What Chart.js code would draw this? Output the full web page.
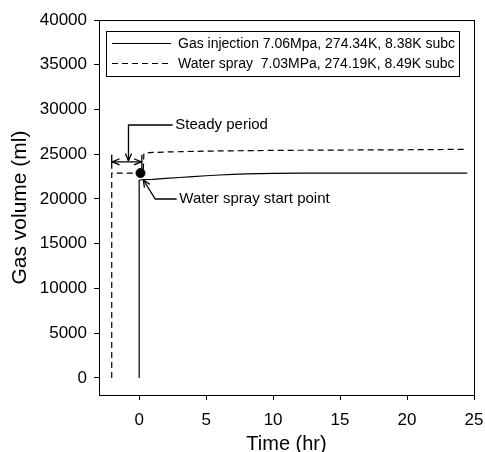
<!DOCTYPE html>
<html>
<head>
<meta charset="utf-8">
<script src="https://cdn.jsdelivr.net/npm/chart.js@4"></script>
<style>
  html, body { margin: 0; padding: 0; background: #fff; }
  #wrap { width: 485px; height: 452px; }
</style>
</head>
<body>
<div id="wrap"><canvas id="chart"></canvas></div>
<script>
// gas injection run (solid)
var gasTime = [0, 0, 0.2, 1, 2, 3, 4, 5, 6, 7, 8, 10, 12, 15, 20, 24.5];
var gasVolume = [0, 22100, 22150, 22200, 22300, 22400, 22500, 22600, 22680, 22750, 22800, 22870, 22890, 22900, 22900, 22900];

// water spray run (dashed)
var sprayTime = [-2.05, -2.05, 0.3, 0.35, 1, 2, 4, 6, 8, 10, 15, 20, 24.5];
var sprayVolume = [0, 22900, 22900, 25100, 25200, 25250, 25320, 25370, 25400, 25430, 25470, 25500, 25550];

// water spray start point marker
var startTime = [0.1];
var startVolume = [22900];

var xTicks = [0, 5, 10, 15, 20, 25];
var yTicks = [0, 5000, 10000, 15000, 20000, 25000, 30000, 35000, 40000];

var labels = [
    'Gas injection 7.06Mpa, 274.34K, 8.38K subc',
    'Water spray  7.03MPa, 274.19K, 8.49K subc'
];

function toPoints(xs, ys) {
    return xs.map(function (x, i) { return {x: x, y: ys[i]}; });
}

var FONT = '"Liberation Sans", Arial, sans-serif';

var framePlugin = {
    id: 'frame',
    afterDraw: function (chart) {
        var ctx = chart.ctx, a = chart.chartArea;
        var xs = chart.scales.x, ys = chart.scales.y;
        ctx.save();
        ctx.strokeStyle = '#000';
        ctx.lineWidth = 1;
        ctx.strokeRect(Math.round(a.left) + 0.5, Math.round(a.top) + 0.5,
            Math.round(a.right - a.left), Math.round(a.bottom - a.top));

        // legend box
        ctx.strokeRect(106.5, 31.5, 353, 45);
        ctx.font = '14px ' + FONT;
        ctx.fillStyle = '#000';
        ctx.textBaseline = 'middle';
        [0, 1].forEach(function (i) {
            var ds = chart.data.datasets[i];
            var yy = 43 + i * 20;
            ctx.beginPath();
            ctx.setLineDash(ds.borderDash || []);
            ctx.moveTo(112, yy + 0.5);
            ctx.lineTo(171, yy + 0.5);
            ctx.stroke();
            ctx.setLineDash([]);
            ctx.fillText(ds.label, 178, yy + 1);
        });

        // annotations, positioned in data units
        function px(x) { return xs.getPixelForValue(x); }
        function py(y) { return ys.getPixelForValue(y); }
        function head(x, y, ang) {
            ctx.beginPath();
            ctx.moveTo(x, y);
            ctx.lineTo(x - 8 * Math.cos(ang - 0.4), y - 8 * Math.sin(ang - 0.4));
            ctx.moveTo(x, y);
            ctx.lineTo(x - 8 * Math.cos(ang + 0.4), y - 8 * Math.sin(ang + 0.4));
            ctx.stroke();
        }
        ctx.lineWidth = 1.3;
        // steady period double arrow
        var ay = py(24150), x1 = px(-2.05), x2 = px(0.2);
        ctx.beginPath();
        ctx.moveTo(x1, ay); ctx.lineTo(x2, ay);
        ctx.moveTo(x1, ay - 7); ctx.lineTo(x1, ay + 7);
        ctx.moveTo(x2, ay - 7); ctx.lineTo(x2, ay + 7);
        ctx.stroke();
        head(x1 + 0.5, ay, Math.PI);
        head(x2 - 0.5, ay, 0);
        // steady period leader
        var lx = px(-0.8), ly = py(28270);
        ctx.beginPath();
        ctx.moveTo(px(2.5), ly); ctx.lineTo(lx, ly); ctx.lineTo(lx, ay - 1);
        ctx.stroke();
        head(lx, ay - 1, Math.PI / 2);
        ctx.font = '15px ' + FONT;
        ctx.fillText('Steady period', px(2.7), ly);
        // start point leader
        var hx = px(0.3), hy = py(22150), kx = px(1.2), ky = py(20000);
        ctx.beginPath();
        ctx.moveTo(px(2.8), ky); ctx.lineTo(kx, ky); ctx.lineTo(hx, hy);
        ctx.stroke();
        head(hx, hy, Math.atan2(hy - ky, hx - kx));
        ctx.fillText('Water spray start point', px(3.0), ky);
        ctx.restore();
    }
};

function plain(v) { return String(v); }

new Chart(document.getElementById('chart'), {
    type: 'scatter',
    data: {
        datasets: [
            {
                label: labels[0],
                data: toPoints(gasTime, gasVolume),
                showLine: true,
                borderColor: '#000',
                borderWidth: 1.2,
                pointRadius: 0,
                tension: 0
            },
            {
                label: labels[1],
                data: toPoints(sprayTime, sprayVolume),
                showLine: true,
                borderColor: '#000',
                borderWidth: 1.2,
                borderDash: [6, 4],
                pointRadius: 0,
                tension: 0
            },
            {
                label: 'start',
                data: toPoints(startTime, startVolume),
                showLine: false,
                pointRadius: 4.5,
                pointBackgroundColor: '#000',
                pointBorderColor: '#000'
            }
        ]
    },
    options: {
        responsive: true,
        maintainAspectRatio: false,
        animation: false,
        layout: {padding: {top: 20, right: 11, left: 0, bottom: 0}},
        plugins: {legend: {display: false}, tooltip: {enabled: false}},
        scales: {
            x: {
                type: 'linear',
                min: -3,
                max: 25,
                afterBuildTicks: function (s) { s.ticks = xTicks.map(function (v) { return {value: v}; }); },
                afterFit: function (s) { s.height = 57; s.paddingLeft = 0; s.paddingRight = 0; },
                grid: {drawOnChartArea: false, drawTicks: true, tickLength: 5, color: '#000'},
                border: {display: true, color: '#000'},
                ticks: {color: '#000', font: {family: FONT, size: 17}, padding: 10, maxRotation: 0, callback: plain},
                title: {display: true, text: 'Time (hr)', color: '#000',
                    font: {family: FONT, size: 20, lineHeight: 0.8}, padding: {top: 0, bottom: 0}}
            },
            y: {
                type: 'linear',
                min: -1900,
                max: 40000,
                afterBuildTicks: function (s) { s.ticks = yTicks.map(function (v) { return {value: v}; }); },
                afterFit: function (s) { s.width = 99; s.paddingTop = 0; s.paddingBottom = 0; },
                grid: {drawOnChartArea: false, drawTicks: true, tickLength: 5, color: '#000'},
                border: {display: true, color: '#000'},
                ticks: {color: '#000', font: {family: FONT, size: 17}, padding: 7, callback: plain},
                title: {display: true, text: 'Gas volume (ml)', color: '#000',
                    font: {family: FONT, size: 21, lineHeight: 1}, padding: {top: 10, bottom: 0}}
            }
        }
    },
    plugins: [framePlugin]
});
</script>
</body>
</html>
